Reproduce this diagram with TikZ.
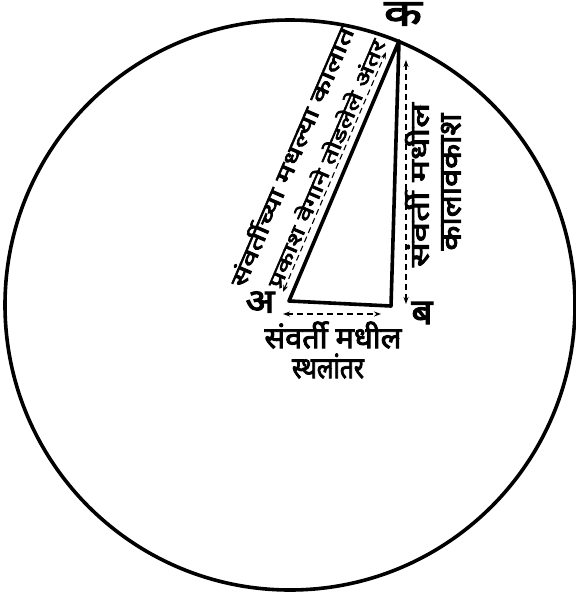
\documentclass[tikz,border=0pt]{standalone}
\usepackage{fontspec}
\usepackage{graphicx}
\newfontfamily\deva[Script=Devanagari,AutoFakeBold=3]{Noto Sans}
\usetikzlibrary{arrows.meta}
\begin{document}
\begin{tikzpicture}[x=1pt,y=-1pt,
  thickline/.style={line width=3.6pt,line cap=round,line join=round},
  measure/.style={dashed,dash pattern=on 6pt off 4pt,line width=1.1pt,{Stealth[length=7pt,width=5pt]}-{Stealth[length=7pt,width=5pt]}},
  lbl/.style={font=\deva\bfseries,inner sep=0pt},
  vertex/.style={font=\deva\bfseries,inner sep=0pt}]
\useasboundingbox (0,0) rectangle (576,595);
% circle
\coordinate (O) at (290,305);
\draw[line width=3.6pt] (O) circle[radius=285pt];
% triangle
\coordinate (K) at (399,41);
\coordinate (A) at (289,301);
\coordinate (B) at (391,306);
\draw[thickline] (A) -- (K) -- (B) -- cycle;
% vertex labels
\node[vertex] (lk) at (403,14) {\resizebox*{38pt}{23pt}{क}};
\node[vertex] (la) at (260,302) {\resizebox*{29pt}{21pt}{अ}};
\node[vertex] (lb) at (422,313) {\resizebox*{21pt}{22pt}{ब}};
% measure arrows
\coordinate (d1) at (283,292);
\coordinate (d2) at (386,52);
\draw[measure] (d1) -- (d2);
\coordinate (r1) at (406,304);
\coordinate (r2) at (406,60);
\draw[measure] (r1) -- (r2);
\coordinate (b1) at (283,314);
\coordinate (b2) at (381,314);
\draw[measure] (b1) -- (b2);
% slanted texts
\node[lbl,rotate=66.8] (t1) at (290.5,156) {\resizebox*{280pt}{20pt}{संवर्तीच्या मधल्या कालात}};
\node[lbl,rotate=66.8] (t2) at (325,163) {\resizebox*{268pt}{18pt}{प्रकाश वेगाने तोडलेले अंतर}};
% right texts
\node[lbl,rotate=90] (r1t) at (417,185) {\resizebox*{164pt}{24pt}{संवर्ती मधील}};
\node[lbl,rotate=90] (r2t) at (451,182) {\resizebox*{137pt}{20pt}{कालावकाश}};
% bottom texts
\node[lbl] (bt1) at (333,335) {\resizebox*{137pt}{27pt}{संवर्ती मधील}};
\node[lbl] (bt2) at (328,366) {\resizebox*{72pt}{25pt}{स्थलांतर}};
\end{tikzpicture}
\end{document}
